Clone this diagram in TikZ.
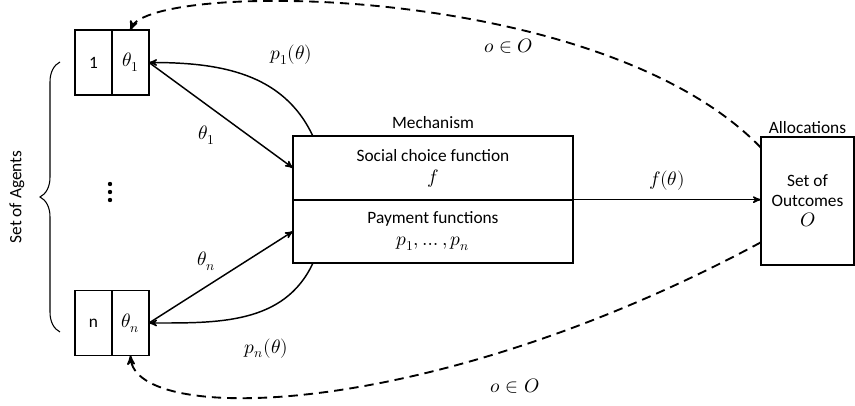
\documentclass[tikz,border=0pt]{standalone}
\usepackage{fontspec}
\usepackage{unicode-math}
\setmainfont{Carlito}
\setmathfont{Latin Modern Math}[Scale=1.12]
\usetikzlibrary{arrows}
\usetikzlibrary{positioning}
\usetikzlibrary{decorations.pathreplacing}
\tikzset{
  cell/.style={draw, line width=1.4pt, outer sep=0pt, inner sep=0pt,
    minimum width=27.75pt, minimum height=48.75pt},
  mech/.style={draw, line width=1.4pt, outer sep=0pt, inner sep=0pt,
    minimum width=210pt, minimum height=47.5pt, align=center,
    font=\fontsize{13}{16.5}\selectfont},
  arrow/.style={->,>=stealth', line width=1.1pt},
  feedback/.style={->,>=stealth', line width=1.4pt, dash pattern=on 7pt off 4.5pt}
}
\begin{document}
\begin{tikzpicture}[x=0.75pt, y=0.75pt, font=\fontsize{13}{15}\selectfont]
  \useasboundingbox (0,0) rectangle (855,406);

  % agents
  \node[cell] (a1num) at (93.5,343.5) {1};
  \node[cell, right=0pt of a1num] (a1type) {$\theta_1$};
  \node[cell] (annum) at (93.5,83) {n};
  \node[cell, right=0pt of annum] (antype) {$\theta_n$};
  \foreach \y in {206,214,222}
    \fill (110,\y) circle (2.2);
  \draw[decorate, decoration={brace, amplitude=15pt}, line width=0.8pt]
    (60,74) -- (60,344);
  \node[rotate=90] (agentslabel) at (17,209) {Set of Agents};

  % mechanism
  \node[mech] (scf) at (433,238) {Social choice function\\$f$};
  \node[mech, below=0pt of scf] (pay) {Payment functions\\$p_1,\ldots,p_n$};
  \node[above=2pt of scf] (mechlabel) {Mechanism};

  % outcomes
  \node[draw, line width=1.4pt, outer sep=0pt, minimum width=70pt,
        minimum height=96pt, align=center,
        font=\fontsize{13}{15}\selectfont] (outcomes) at (807.5,205)
        {Set of\\Outcomes\\$O$};
  \node[above=1pt of outcomes, inner sep=1pt] (alloclabel) {Allocations};

  % reports and payments
  \draw[arrow] (a1type.east) -- (scf.west) node[pos=0.4, below=12pt] {$\theta_1$};
  \draw[arrow] (antype.east) -- (pay.west) node[pos=0.4, above=8pt] {$\theta_n$};
  \draw[arrow] ([xshift=15pt]scf.north west) to[out=115, in=0]
    node[pos=0.3, above=17pt, xshift=10pt] {$p_1(\theta)$} (a1type.east);
  \draw[arrow] ([xshift=15pt]pay.south west) to[out=245, in=0]
    node[pos=0.4, below=17pt, xshift=3pt] {$p_n(\theta)$} (antype.east);
  \draw[arrow] (pay.north east) -- (outcomes.west |- pay.north east)
    node[midway, above=3pt] {$f(\theta)$};

  % outcome fed back to the agents
  \draw[feedback] ([yshift=-8pt]outcomes.north west)
    .. controls (600,425) and (150,425) .. (a1type.north)
    node[pos=0.36, below=5pt] {$o\in O$};
  \draw[feedback] ([yshift=17pt]outcomes.south west)
    .. controls (431,-14) and (135,-20) .. (antype.south)
    node[pos=0.26, below=19pt] {$o\in O$};
\end{tikzpicture}
\end{document}
